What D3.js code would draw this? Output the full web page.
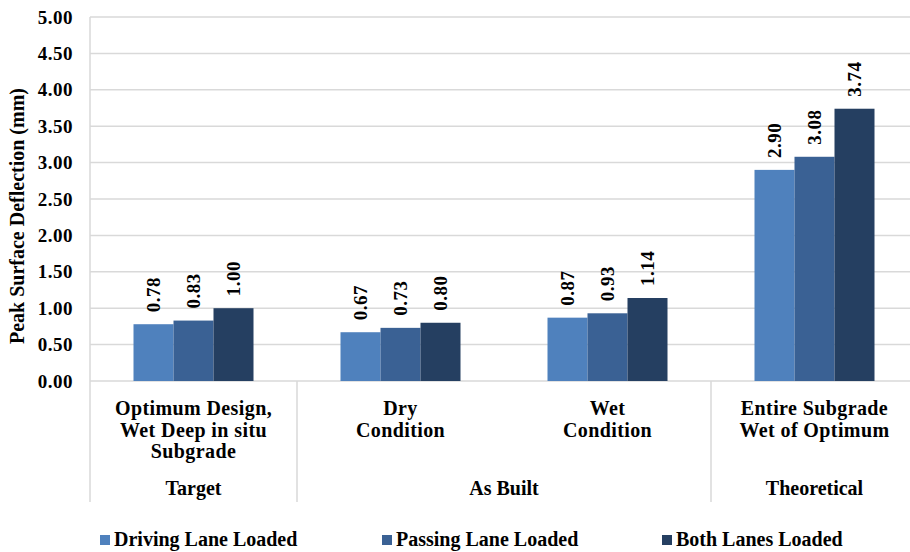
<!DOCTYPE html>
<html>
<head>
<meta charset="utf-8">
<script src="https://cdn.jsdelivr.net/npm/d3@7/dist/d3.min.js"></script>
<style>
  html, body { margin: 0; padding: 0; background: #fff; }
  svg { display: block; }
  svg text { font-family: 'Liberation Serif', serif !important; font-weight: bold; }
</style>
</head>
<body>
<svg id="chart" width="910" height="552"></svg>
<script>
// Categories (inner level) and their outer grouping
const categories = [
  ["Optimum Design,", "Wet Deep  in situ", "Subgrade"],
  ["Dry", "Condition"],
  ["Wet", "Condition"],
  ["Entire Subgrade", "Wet of Optimum"]
];
const groupNames = ["Target", "As Built", "Theoretical"];
const groupSpans = [1, 2, 1];

const seriesNames = ["Driving Lane Loaded", "Passing Lane Loaded", "Both Lanes Loaded"];
const drivingLane = [0.78, 0.67, 0.87, 2.90];
const passingLane = [0.83, 0.73, 0.93, 3.08];
const bothLanes   = [1.00, 0.80, 1.14, 3.74];
const seriesColors = ["#4F81BD", "#3A6194", "#253F61"];

const yTicks = [0, 0.5, 1, 1.5, 2, 2.5, 3, 3.5, 4, 4.5, 5];

const seriesValues = [drivingLane, passingLane, bothLanes];

const svg = d3.select("#chart");

const plotLeft = 90, plotRight = 918, plotTop = 17, plotBottom = 381;

const y = d3.scaleLinear().domain([0, 5]).range([plotBottom, plotTop]);
const x0 = d3.scaleBand().domain(d3.range(categories.length)).range([plotLeft, plotRight]).paddingInner(0).paddingOuter(0);
const x1 = d3.scaleBand().domain(d3.range(seriesNames.length)).range([0, x0.bandwidth()]).paddingInner(0).paddingOuter(1.0875);

// Gridlines
svg.append("g")
  .selectAll("line")
  .data(yTicks)
  .join("line")
  .attr("x1", plotLeft).attr("x2", plotRight)
  .attr("y1", d => y(d)).attr("y2", d => y(d))
  .attr("stroke", "#d9d9d9").attr("stroke-width", 1.5);

// Y axis tick labels
const yAxis = d3.axisLeft(y).tickValues(yTicks).tickFormat(d3.format(".2f")).tickSize(0).tickPadding(17);
const ya = svg.append("g").attr("transform", `translate(${plotLeft},0)`).call(yAxis);
ya.attr("font-family", null).attr("font-size", null);
ya.select(".domain").remove();
ya.selectAll("text")
  .style("font-size", "19px")
  .attr("letter-spacing", 0.5)
  .attr("fill", "#000");

// Left axis line extending into category label area
svg.append("line")
  .attr("x1", plotLeft).attr("x2", plotLeft).attr("y1", plotTop).attr("y2", 502)
  .attr("stroke", "#d9d9d9").attr("stroke-width", 1.5);

// Y axis title
svg.append("text")
  .attr("transform", `translate(24,${(plotTop + plotBottom) / 2 + 17}) rotate(-90)`)
  .attr("text-anchor", "middle")
  .style("font-size", "20px")
  .text("Peak Surface Deflection (mm)");

// Bars
const groups = svg.append("g")
  .selectAll("g")
  .data(categories.map((c, i) => i))
  .join("g")
  .attr("transform", i => `translate(${x0(i)},0)`);

groups.selectAll("rect")
  .data(i => seriesValues.map((s, k) => ({ k, v: s[i] })))
  .join("rect")
  .attr("x", d => x1(d.k))
  .attr("width", x1.bandwidth())
  .attr("y", d => y(d.v))
  .attr("height", d => y(0) - y(d.v))
  .attr("fill", d => seriesColors[d.k]);

// Value labels, rotated
groups.selectAll("text.val")
  .data(i => seriesValues.map((s, k) => ({ k, v: s[i] })))
  .join("text")
  .attr("class", "val")
  .attr("transform", d => `translate(${x1(d.k) + x1.bandwidth() / 2 + 6.5},${y(d.v) - 12}) rotate(-90)`)
  .style("font-size", "19px")
  .attr("letter-spacing", 0.5)
  .text(d => d.v.toFixed(2));

// Category labels (inner level)
categories.forEach((lines, i) => {
  const t = svg.append("text")
    .attr("x", x0(i) + x0.bandwidth() / 2)
    .attr("y", 415)
    .attr("text-anchor", "middle")
    .style("font-size", "20px")
    .attr("letter-spacing", 0.4);
  lines.forEach((ln, j) => {
    t.append("tspan")
      .attr("x", x0(i) + x0.bandwidth() / 2)
      .attr("dy", j === 0 ? 0 : 21.5)
      .text(ln);
  });
});

// Outer group labels and dividers
let start = 0;
groupNames.forEach((g, gi) => {
  const a = x0(start);
  const b = x0(start + groupSpans[gi] - 1) + x0.bandwidth();
  svg.append("text")
    .attr("x", (a + b) / 2)
    .attr("y", 495)
    .attr("text-anchor", "middle")
    .style("font-size", "20px")
    .text(g);
  if (gi > 0) {
    svg.append("line")
      .attr("x1", a).attr("x2", a).attr("y1", plotBottom).attr("y2", 502)
      .attr("stroke", "#d9d9d9").attr("stroke-width", 1.5);
  }
  start += groupSpans[gi];
});

// Legend
const legendX = [100, 382, 662];
seriesNames.forEach((n, k) => {
  svg.append("rect")
    .attr("x", legendX[k]).attr("y", 535)
    .attr("width", 10).attr("height", 10)
    .attr("fill", seriesColors[k]);
  svg.append("text")
    .attr("x", legendX[k] + 14).attr("y", 546)
    .style("font-size", "20px")
    .text(n);
});
</script>
</body>
</html>
